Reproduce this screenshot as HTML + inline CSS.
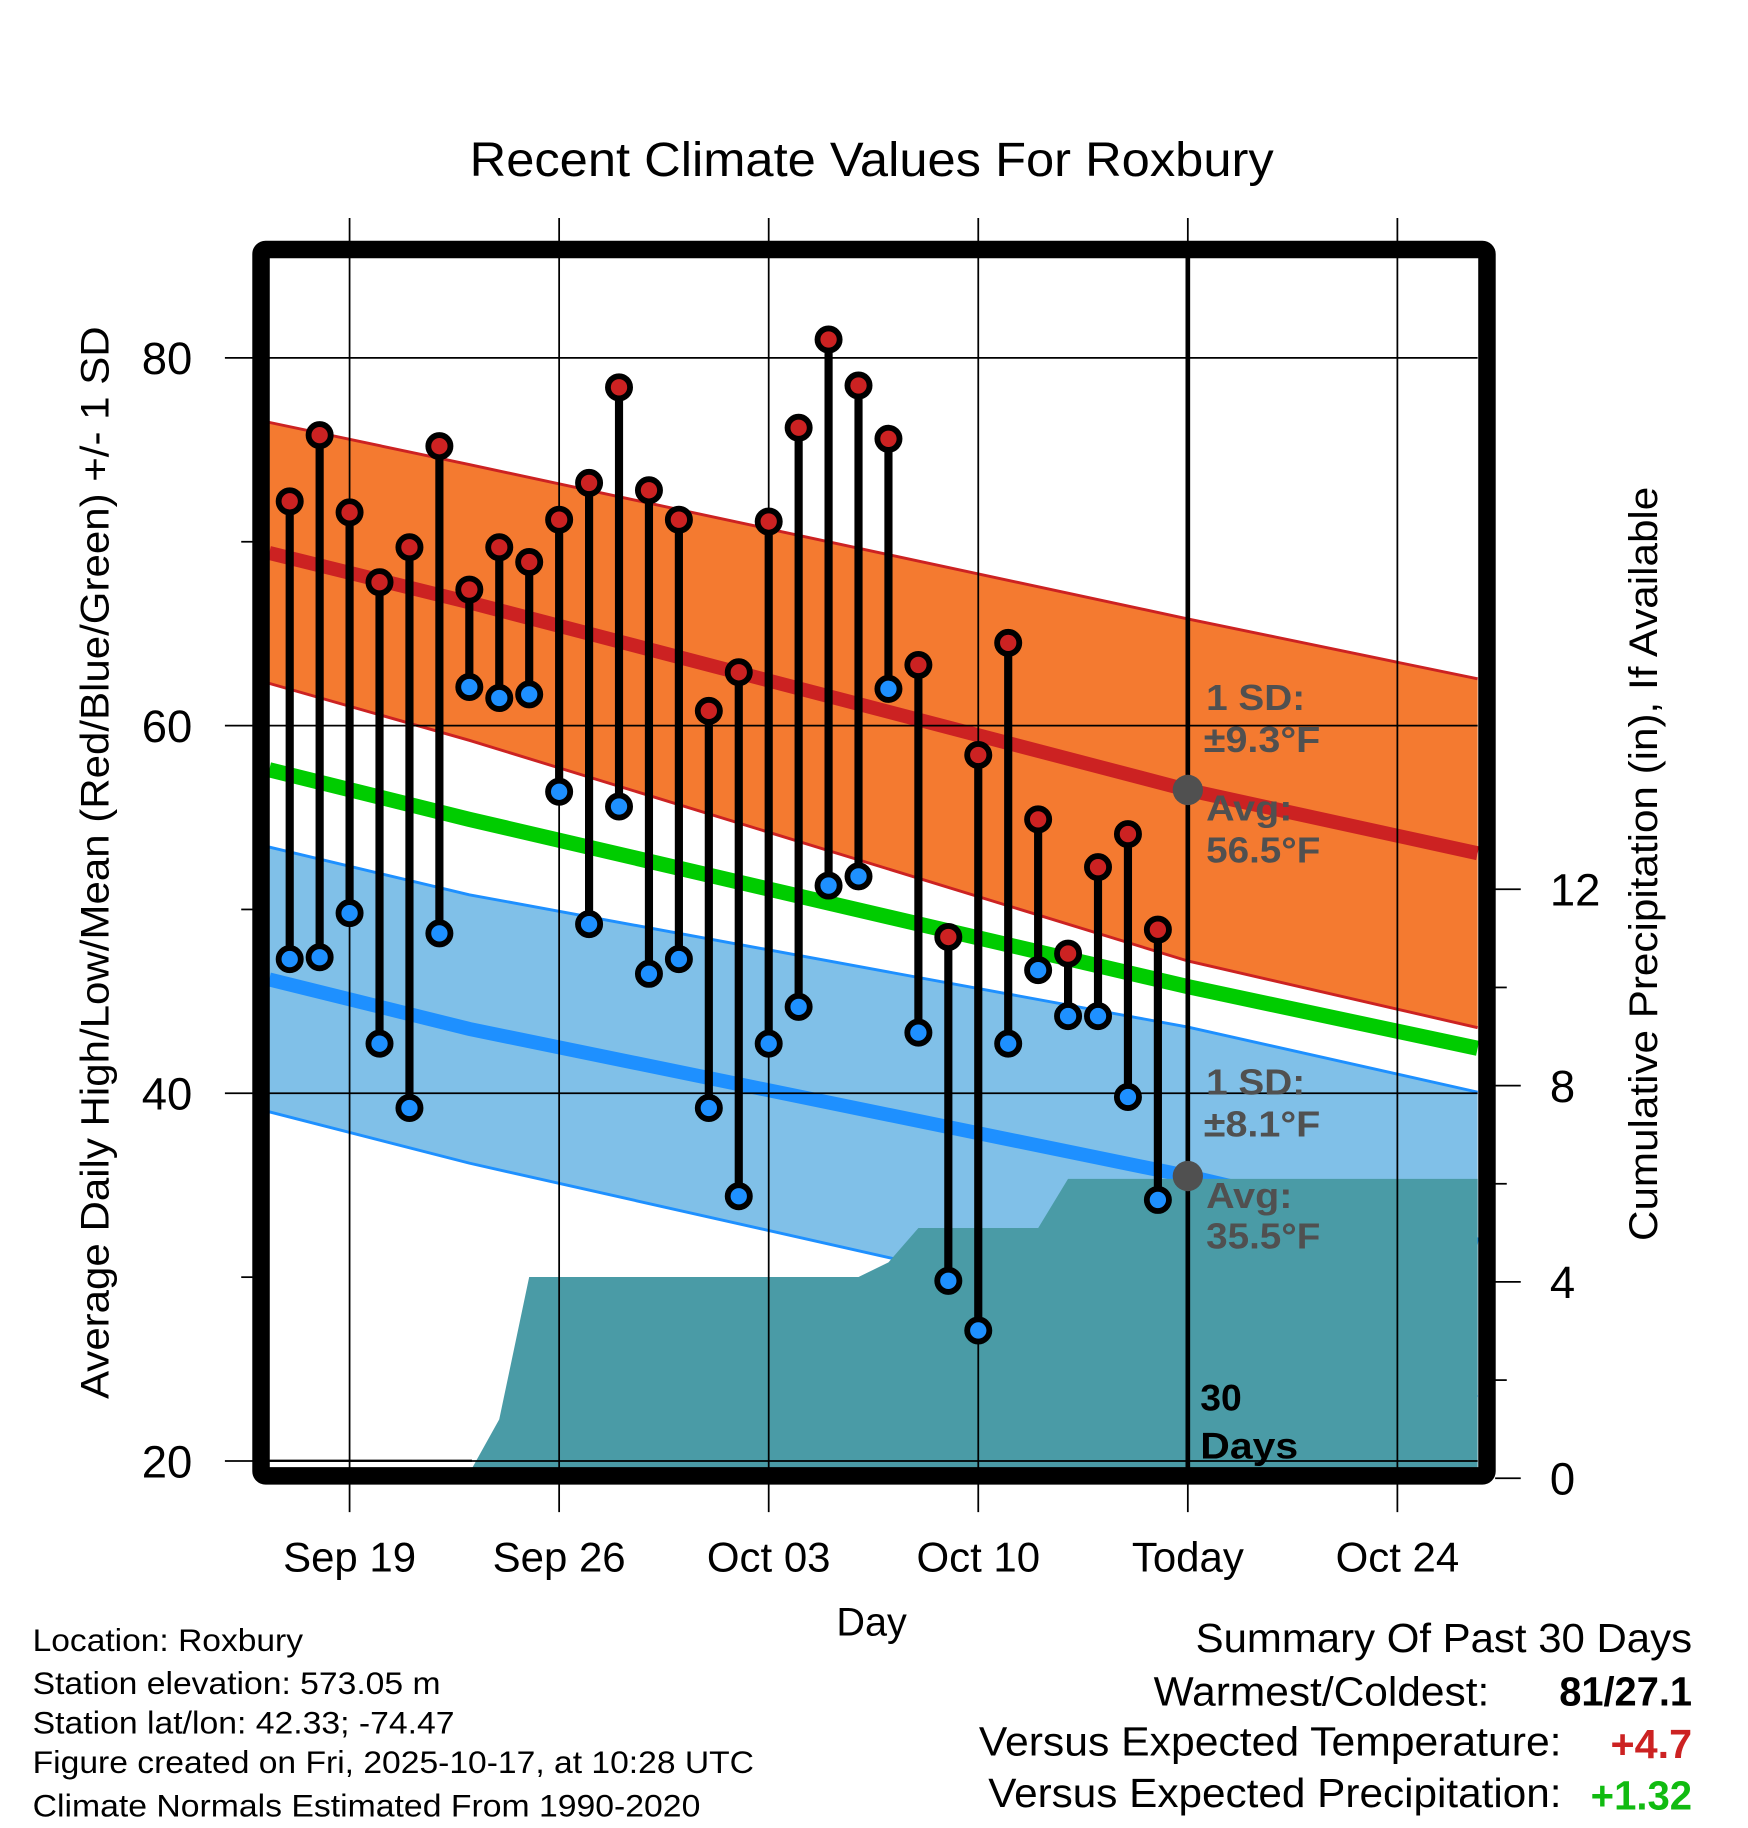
<!DOCTYPE html>
<html><head><meta charset="utf-8"><style>
html,body{margin:0;padding:0;background:#fff;}
svg{display:block;font-family:"Liberation Sans",Arial,sans-serif;}
</style></head><body>
<svg id="chart" width="1748" height="1828" viewBox="0 0 1500 1568" preserveAspectRatio="none" xmlns="http://www.w3.org/2000/svg">
<g id="bg"></g>
<g id="bands"></g>
<g id="precip"></g>
<g id="grid"></g>
<g id="marks"></g>
<g id="labels"></g>
</svg>
<script>
// ---- data ----
const dayLabels = ["Sep 17","Sep 18","Sep 19","Sep 20","Sep 21","Sep 22","Sep 23","Sep 24","Sep 25","Sep 26","Sep 27","Sep 28","Sep 29","Sep 30","Oct 01","Oct 02","Oct 03","Oct 04","Oct 05","Oct 06","Oct 07","Oct 08","Oct 09","Oct 10","Oct 11","Oct 12","Oct 13","Oct 14","Oct 15","Oct 16"];
const highs = [72.2,75.8,71.6,67.8,69.7,75.2,67.4,69.7,68.9,71.2,73.2,78.4,72.8,71.2,60.8,62.9,71.1,76.2,81.0,78.5,75.6,63.3,48.5,58.4,64.5,54.9,47.6,52.3,54.1,48.9];
const lows = [47.3,47.4,49.8,42.7,39.2,48.7,62.1,61.5,61.7,56.4,49.2,55.6,46.5,47.3,39.2,34.4,42.7,44.7,51.3,51.8,62.0,43.3,29.8,27.1,42.7,46.7,44.2,44.2,39.8,34.2];
const precipCum = [0,0,0,0,0,0,0,1.2,4.1,4.1,4.1,4.1,4.1,4.1,4.1,4.1,4.1,4.1,4.1,4.1,4.4,5.1,5.1,5.1,5.1,5.1,6.1,6.1,6.1,6.1];
// normals at day offsets (0 = Sep 17)
const normDays = [-0.7, 6, 30, 40.4];
const normHigh = [69.4, 66.7, 56.5, 52.8];
const sdHigh = [7.1, 7.5, 9.3, 9.5];
const normMean = [57.6, 54.9, 45.8, 42.2];
const normLow = [46.2, 43.5, 35.5, 31.5];
const sdLow = [7.2, 7.3, 8.1, 8.3];
const yTicks = [20,40,60,80];
const yMinor = [30,50,70];
const pTicks = [0,4,8,12];
const xTickDays = [2,9,16,23,30,37];
const xTickLabels = ["Sep 19","Sep 26","Oct 03","Oct 10","Today","Oct 24"];
const todayDay = 30;

// ---- axes ----
const X0=248.6, DX=25.69;
const x = d => X0 + d*DX;
const y = v => 307 + (80 - v)*15.77;
const yp = p => 1268 - p*42.1;
const L=231,R=1268,T=221,B=1259;
function interp(arr, d){
  for(let i=0;i<normDays.length-1;i++){
    if(d<=normDays[i+1]||i===normDays.length-2){
      const t=(d-normDays[i])/(normDays[i+1]-normDays[i]);
      return arr[i]+t*(arr[i+1]-arr[i]);
    }
  }
}
const NS="http://www.w3.org/2000/svg";
function mk(parent,tag,attrs,text){
  const e=document.createElementNS(NS,tag);
  for(const k in attrs)e.setAttribute(k,attrs[k]);
  if(text!==undefined)e.textContent=text;
  document.getElementById(parent).appendChild(e);return e;
}
const dStart=(L-X0)/DX, dEnd=(R-X0)/DX;
function line(fn){
  const pts=[];
  for(const d of [dStart,...normDays.filter(v=>v>dStart&&v<dEnd),dEnd]) pts.push([x(d),y(fn(d))]);
  return pts;
}
const ptsStr=p=>p.map(q=>q[0].toFixed(1)+","+q[1].toFixed(1)).join(" ");

// high band
{
  const up=line(d=>interp(normHigh,d)+interp(sdHigh,d)), lo=line(d=>interp(normHigh,d)-interp(sdHigh,d));
  let e=mk("bands","polygon",{points:ptsStr(up.concat(lo.slice().reverse())),fill:"#f47a30"});
  
  
  mk("bands","polyline",{points:ptsStr(up),fill:"none",stroke:"#cc2222","stroke-width":2.5});
  mk("bands","polyline",{points:ptsStr(lo),fill:"none",stroke:"#cc2222","stroke-width":2.5});
  e=mk("bands","polyline",{points:ptsStr(line(d=>interp(normHigh,d))),fill:"none",stroke:"#cc2222","stroke-width":12});
  
  
}
// green mean
{
  const e=mk("bands","polyline",{points:ptsStr(line(d=>interp(normMean,d))),fill:"none",stroke:"#00cc00","stroke-width":13});
  
  
}
// low band
{
  const up=line(d=>interp(normLow,d)+interp(sdLow,d)), lo=line(d=>interp(normLow,d)-interp(sdLow,d));
  let e=mk("bands","polygon",{points:ptsStr(up.concat(lo.slice().reverse())),fill:"#80c0e8"});
  
  
  mk("bands","polyline",{points:ptsStr(up),fill:"none",stroke:"#1e90ff","stroke-width":2.5});
  mk("bands","polyline",{points:ptsStr(lo),fill:"none",stroke:"#1e90ff","stroke-width":2.5});
  e=mk("bands","polyline",{points:ptsStr(line(d=>interp(normLow,d))),fill:"none",stroke:"#1e90ff","stroke-width":12});
  
  
}
// precip
{
  const pts=[[x(6.1),B]];
  precipCum.forEach((p,i)=>{ if(i>=7) pts.push([x(i),yp(p)]); });
  pts.push([R,yp(precipCum[precipCum.length-1])]);
  pts.push([R,B]);
  const e=mk("precip","polygon",{points:ptsStr(pts),fill:"#4a9ba6"});
  
  
}

// grid
yTicks.forEach(v=>{
  mk("grid","line",{x1:193,x2:R,y1:y(v),y2:y(v),stroke:"#000","stroke-width":1.5});
  const t=mk("labels","text",{x:165,y:y(v)+14,"text-anchor":"end","font-size":39},String(v));
  
  
});
yMinor.forEach(v=>mk("grid","line",{x1:207,x2:217,y1:y(v),y2:y(v),stroke:"#000","stroke-width":1.5}));
pTicks.forEach(p=>{
  mk("grid","line",{x1:1283,x2:1305,y1:yp(p),y2:yp(p),stroke:"#000","stroke-width":1.5});
  const t=mk("labels","text",{x:1330,y:yp(p)+14,"font-size":39},String(p));
  
  
});
[2,6,10].forEach(p=>mk("grid","line",{x1:1283,x2:1293,y1:yp(p),y2:yp(p),stroke:"#000","stroke-width":1.5}));
xTickDays.forEach((d,i)=>{
  mk("grid","line",{x1:x(d),x2:x(d),y1:187,y2:1297,stroke:"#000","stroke-width":1.5});
  const t=mk("labels","text",{x:x(d),y:1348,"text-anchor":"middle","font-size":36},xTickLabels[i]);
  
  
});
// today line
mk("grid","line",{x1:x(todayDay),x2:x(todayDay),y1:T,y2:B,stroke:"#000","stroke-width":4});

// frame
{
  const f=mk("grid","rect",{x:224,y:214,width:1052,height:1052,fill:"none",stroke:"#000","stroke-width":15,rx:4});
  
  
}

// marks
highs.forEach((h,i)=>{
  const l=lows[i];
  const s=mk("marks","line",{x1:x(i),x2:x(i),y1:y(h),y2:y(l),stroke:"#000","stroke-width":7});
  
  
  const c1=mk("marks","circle",{cx:x(i),cy:y(h),r:9.5,fill:"#cc2222",stroke:"#000","stroke-width":5});
  
  
  const c2=mk("marks","circle",{cx:x(i),cy:y(l),r:9.5,fill:"#1e90ff",stroke:"#000","stroke-width":5});
  
  
});
[interp(normHigh,todayDay),interp(normLow,todayDay)].forEach(v=>{
  const c=mk("marks","circle",{cx:x(todayDay),cy:y(v),r:13,fill:"#505050"});
  
  
});
</script>
<script>
// static labels
(function(){
const NS="http://www.w3.org/2000/svg";
const g=document.getElementById("labels");
function t(name,x,y,size,txt,opts,len){
  const e=document.createElementNS(NS,"text");
  e.setAttribute("x",x);e.setAttribute("y",y);e.setAttribute("font-size",size);
  for(const k in (opts||{}))e.setAttribute(k,opts[k]);
  if(len){e.setAttribute("textLength",len);e.setAttribute("lengthAdjust","spacingAndGlyphs");}
  e.textContent=txt;
  
  
  g.appendChild(e);return e;
}
t("chart-title",748,151,41,"Recent Climate Values For Roxbury",{"text-anchor":"middle"},690);
t("y-axis-title",0,0,34,"Average Daily High/Low/Mean (Red/Blue/Green) +/- 1 SD",{"text-anchor":"middle",transform:"translate(93,740) rotate(-90)"},920);
t("y2-axis-title",0,0,34,"Cumulative Precipitation (in), If Available",{"text-anchor":"middle",transform:"translate(1422,741) rotate(-90)"},647);
t("x-axis-title",748,1403,34,"Day",{"text-anchor":"middle"});
const gs={fill:"#505050","font-weight":"bold"};
t("high-sd-label",1035,609,31,"1 SD:",gs,85);
t("high-sd-value",1033,645,31,"±9.3°F",gs,100);
t("high-avg-label",1035,704,31,"Avg:",gs,74);
t("high-avg-value",1035,740,31,"56.5°F",gs,98);
t("low-sd-label",1035,939,31,"1 SD:",gs,85);
t("low-sd-value",1033,975,31,"±8.1°F",gs,100);
t("low-avg-label",1035,1036,31,"Avg:",gs,74);
t("low-avg-value",1035,1071,31,"35.5°F",gs,98);
t("days-count",1030,1210,32,"30",{"font-weight":"bold"});
t("days-label",1030,1251,32,"Days",{"font-weight":"bold"},84);
t("location-text",28,1416,27,"Location: Roxbury",{},232);
t("elevation-text",28,1453,27,"Station elevation: 573.05 m",{},350);
t("latlon-text",28,1487,27,"Station lat/lon: 42.33; -74.47",{},362);
t("created-text",28,1521,27,"Figure created on Fri, 2025-10-17, at 10:28 UTC",{},619);
t("normals-text",28,1558,27,"Climate Normals Estimated From 1990-2020",{},573);
t("summary-title",1452,1417,35,"Summary Of Past 30 Days",{"text-anchor":"end"},426);
t("warmest-label",1278,1463,35,"Warmest/Coldest:",{"text-anchor":"end"},288);
t("warmest-value",1452,1463,35,"81/27.1",{"text-anchor":"end","font-weight":"bold"},114);
t("temp-anomaly-label",1340,1506,35,"Versus Expected Temperature:",{"text-anchor":"end"},500);
t("temp-anomaly-value",1452,1508,35,"+4.7",{"text-anchor":"end","font-weight":"bold",fill:"#cc2222"},70);
t("precip-anomaly-label",1340,1550,35,"Versus Expected Precipitation:",{"text-anchor":"end"},492);
t("precip-anomaly-value",1452,1552,35,"+1.32",{"text-anchor":"end","font-weight":"bold",fill:"#11bb11"},87);
// 20-line left segment
const l=document.createElementNS(NS,"line");
l.setAttribute("x1",231);l.setAttribute("x2",405);l.setAttribute("y1",1253);l.setAttribute("y2",1253);l.setAttribute("stroke","#000");l.setAttribute("stroke-width",2);
document.getElementById("grid").appendChild(l);
})();
</script>
</body></html>
